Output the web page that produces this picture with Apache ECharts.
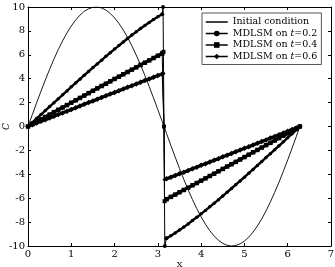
<!doctype html>
<html lang="en">
  <head>
    <meta charset="utf-8">
    <title>MDLSM vs initial condition</title>
    <script src="https://cdn.jsdelivr.net/npm/echarts@6/dist/echarts.min.js"></script>
    <style>
      html, body { margin: 0; padding: 0; background: #fff; }
      #chart { width: 335px; height: 267px; }
    </style>
  </head>
  <body>
    <div id="chart"></div>
  <script>
    // initial condition
    var xInit = [0, 0.1, 0.2, 0.3, 0.4, 0.5, 0.6, 0.7, 0.8, 0.9, 1.0, 1.1, 1.2, 1.3, 1.4, 1.5, 1.6, 1.7, 1.8, 1.9,
                 2.0, 2.1, 2.2, 2.3, 2.4, 2.5, 2.6, 2.7, 2.8, 2.9, 3.0, 3.1, 3.2, 3.3, 3.4, 3.5, 3.6, 3.7, 3.8, 3.9,
                 4.0, 4.1, 4.2, 4.3, 4.4, 4.5, 4.6, 4.7, 4.8, 4.9, 5.0, 5.1, 5.2, 5.3, 5.4, 5.5, 5.6, 5.7, 5.8, 5.9,
                 6.0, 6.1, 6.2, 6.28];
    var cInit = [0, 1.00, 1.99, 2.96, 3.89, 4.79, 5.65, 6.44, 7.17, 7.83, 8.41, 8.91, 9.32, 9.64, 9.85, 9.97, 10.0, 9.92, 9.74, 9.46,
                 9.09, 8.63, 8.08, 7.46, 6.75, 5.98, 5.16, 4.27, 3.35, 2.39, 1.41, 0.42, -0.58, -1.58, -2.55, -3.51, -4.43, -5.30, -6.12, -6.88,
                 -7.57, -8.18, -8.72, -9.16, -9.52, -9.78, -9.94, -10.0, -9.96, -9.82, -9.59, -9.26, -8.83, -8.32, -7.73, -7.06, -6.31, -5.50, -4.65, -3.74,
                 -2.79, -1.82, -0.83, 0];

    // MDLSM solutions: left branch, jump, right branch
    var xLeft = [0, 0.1, 0.2, 0.3, 0.4, 0.5, 0.6, 0.7, 0.8, 0.9, 1.0, 1.1, 1.2, 1.3, 1.4, 1.5, 1.6, 1.7, 1.8, 1.9,
                 2.0, 2.1, 2.2, 2.3, 2.4, 2.5, 2.6, 2.7, 2.8, 2.9, 3.0, 3.1];
    var xRight = [3.2, 3.3, 3.4, 3.5, 3.6, 3.7, 3.8, 3.9, 4.0, 4.1, 4.2, 4.3, 4.4, 4.5, 4.6, 4.7, 4.8, 4.9, 5.0, 5.1,
                  5.2, 5.3, 5.4, 5.5, 5.6, 5.7, 5.8, 5.9, 6.0, 6.1, 6.2, 6.28];

    var xJump02 = [3.12, 3.1416, 3.16];
    var cJump02 = [10, 0, -10];
    var xJump04 = [3.13, 3.1416, 3.155];
    var cJump04 = [6.25, 0, -6.25];
    var xJump06 = [3.13, 3.1416, 3.155];
    var cJump06 = [4.45, 0, -4.45];

    var cLeft02 = [0, 0.33, 0.67, 1.0, 1.33, 1.67, 1.99, 2.32, 2.65, 2.98, 3.32, 3.64, 3.96, 4.29, 4.61, 4.93, 5.24, 5.55, 5.87, 6.17,
                   6.48, 6.77, 7.07, 7.36, 7.65, 7.92, 8.2, 8.46, 8.71, 8.95, 9.18, 9.39];
    var cRight02 = [-9.35, -9.14, -8.91, -8.67, -8.42, -8.15, -7.87, -7.6, -7.31, -7.02, -6.72, -6.43, -6.12, -5.82, -5.5, -5.19, -4.87, -4.56, -4.24, -3.91,
                    -3.59, -3.26, -2.93, -2.59, -2.27, -1.94, -1.61, -1.28, -0.94, -0.61, -0.28, 0];

    var cLeft04 = [0, 0.2, 0.4, 0.6, 0.8, 1.0, 1.2, 1.4, 1.59, 1.79, 1.99, 2.19, 2.39, 2.59, 2.79, 2.99, 3.19, 3.39, 3.58, 3.78,
                   3.98, 4.17, 4.37, 4.56, 4.76, 4.95, 5.15, 5.34, 5.53, 5.73, 5.92, 6.11];
    var cRight04 = [-6.08, -5.89, -5.70, -5.5, -5.31, -5.12, -4.92, -4.73, -4.53, -4.34, -4.14, -3.95, -3.75, -3.55, -3.35, -3.16, -2.96, -2.76, -2.56, -2.36,
                    -2.16, -1.96, -1.76, -1.56, -1.37, -1.17, -0.97, -0.77, -0.57, -0.37, -0.17, 0];

    var cLeft06 = [0, 0.14, 0.29, 0.43, 0.57, 0.71, 0.86, 1.0, 1.14, 1.28, 1.43, 1.57, 1.71, 1.86, 2.0, 2.14, 2.28, 2.43, 2.57, 2.71,
                   2.85, 2.99, 3.14, 3.28, 3.42, 3.56, 3.7, 3.84, 3.98, 4.12, 4.27, 4.4];
    var cRight06 = [-4.38, -4.24, -4.1, -3.96, -3.82, -3.68, -3.54, -3.4, -3.25, -3.11, -2.97, -2.83, -2.69, -2.54, -2.4, -2.26, -2.11, -1.97, -1.83, -1.69,
                    -1.54, -1.4, -1.26, -1.12, -0.97, -0.83, -0.69, -0.55, -0.4, -0.26, -0.12, 0];

    var legendNames = ['Initial condition', 'MDLSM on t=0.2', 'MDLSM on t=0.4', 'MDLSM on t=0.6'];

    function zip(xs, ys) {
      var out = [];
      for (var i = 0; i < xs.length; i++) out.push([xs[i], ys[i]]);
      return out;
    }
    // thick part: left branch, gap, right branch
    function branches(cL, cR) {
      return zip(xLeft, cL).concat(['-'], zip(xRight, cR));
    }
    // thin jump: last left point -> jump points -> first right point
    function jump(xJ, cJ, cL, cR) {
      var xs = [xLeft[xLeft.length - 1]].concat(xJ, [xRight[0]]);
      var cs = [cL[cL.length - 1]].concat(cJ, [cR[0]]);
      return zip(xs, cs);
    }

    var serif = 'DejaVu Serif';
    var chart = echarts.init(document.getElementById('chart'), null, { renderer: 'canvas' });

    var axisCommon = {
      axisLine: { show: true, onZero: false, lineStyle: { color: '#000', width: 1 } },
      axisTick: { show: true, inside: true, length: 3, lineStyle: { color: '#000' } },
      splitLine: { show: false }
    };

    function jumpSeries(data, sym) {
      return {
        name: 'jump', type: 'line', data: data,
        symbol: sym, symbolSize: 4, showAllSymbol: true,
        lineStyle: { color: '#000', width: 1 }, itemStyle: { color: '#000' }
      };
    }

    var option = {
      animation: false,
      grid: { left: 28, right: 4, top: 7, bottom: 21, containLabel: false, outerBoundsMode: 'none' },
      legend: {
        data: [
          { name: legendNames[0], itemStyle: { color: 'transparent', borderWidth: 0 } },
          legendNames[1], legendNames[2], legendNames[3]
        ],
        orient: 'vertical',
        left: 202,
        top: 13,
        padding: [4, 4, 3, 3],
        itemGap: 1.5,
        itemWidth: 22,
        itemHeight: 7,
        backgroundColor: '#fff',
        borderColor: '#555',
        borderWidth: 1,
        lineStyle: { width: 1.5 },
        formatter: function (name) {
          if (name.indexOf('MDLSM') === 0) {
            return '{a|MDLSM on }{i|t}{a|' + name.slice(name.indexOf('=')) + '}';
          }
          return '{a|' + name + '}';
        },
        textStyle: {
          color: '#000',
          fontFamily: serif,
          fontSize: 9.5,
          rich: {
            a: { fontFamily: serif, fontSize: 9.5, color: '#000' },
            i: { fontFamily: serif, fontSize: 9.5, fontStyle: 'italic', color: '#000' }
          }
        }
      },
      xAxis: [
        Object.assign({}, axisCommon, {
          type: 'value', min: 0, max: 7, interval: 1, position: 'bottom',
          name: 'X', nameLocation: 'middle', nameGap: 15, nameMoveOverlap: false,
          nameTextStyle: { fontFamily: serif, fontSize: 8, color: '#000' },
          axisLabel: { fontFamily: serif, fontSize: 10, color: '#000', margin: 3 }
        }),
        Object.assign({}, axisCommon, {
          type: 'value', min: 0, max: 7, interval: 1, position: 'top',
          axisLabel: { show: false }
        })
      ],
      yAxis: [
        Object.assign({}, axisCommon, {
          type: 'value', min: -10, max: 10, interval: 2, position: 'left',
          name: 'C', nameLocation: 'middle', nameGap: 17, nameRotate: 90, nameMoveOverlap: false,
          nameTextStyle: { fontFamily: serif, fontSize: 9, fontStyle: 'italic', color: '#000' },
          axisLabel: { fontFamily: serif, fontSize: 10, color: '#000', margin: 3 }
        }),
        Object.assign({}, axisCommon, {
          type: 'value', min: -10, max: 10, interval: 2, position: 'right',
          axisLabel: { show: false }
        })
      ],
      series: [
        {
          name: legendNames[0], type: 'line', data: zip(xInit, cInit),
          showSymbol: false, symbol: 'none',
          lineStyle: { color: '#000', width: 0.9 }, itemStyle: { color: '#000' }
        },
        {
          name: legendNames[1], type: 'line', data: branches(cLeft02, cRight02), connectNulls: false,
          symbol: 'circle', symbolSize: 3.5, showAllSymbol: true,
          lineStyle: { color: '#000', width: 2.4 }, itemStyle: { color: '#000' }
        },
        {
          name: legendNames[2], type: 'line', data: branches(cLeft04, cRight04), connectNulls: false,
          symbol: 'rect', symbolSize: 4.5, showAllSymbol: true,
          lineStyle: { color: '#000', width: 3.2 },
          itemStyle: { color: '#000' }
        },
        {
          name: legendNames[3], type: 'line', data: branches(cLeft06, cRight06), connectNulls: false,
          symbol: 'diamond', symbolSize: 5.5, showAllSymbol: true,
          lineStyle: { color: '#000', width: 3.2 },
          itemStyle: { color: '#000' }
        },
        jumpSeries(jump(xJump02, cJump02, cLeft02, cRight02), 'circle'),
        jumpSeries(jump(xJump04, cJump04, cLeft04, cRight04), 'rect'),
        jumpSeries(jump(xJump06, cJump06, cLeft06, cRight06), 'diamond')
      ]
    };

    chart.setOption(option);
  </script>
  </body>
</html>
